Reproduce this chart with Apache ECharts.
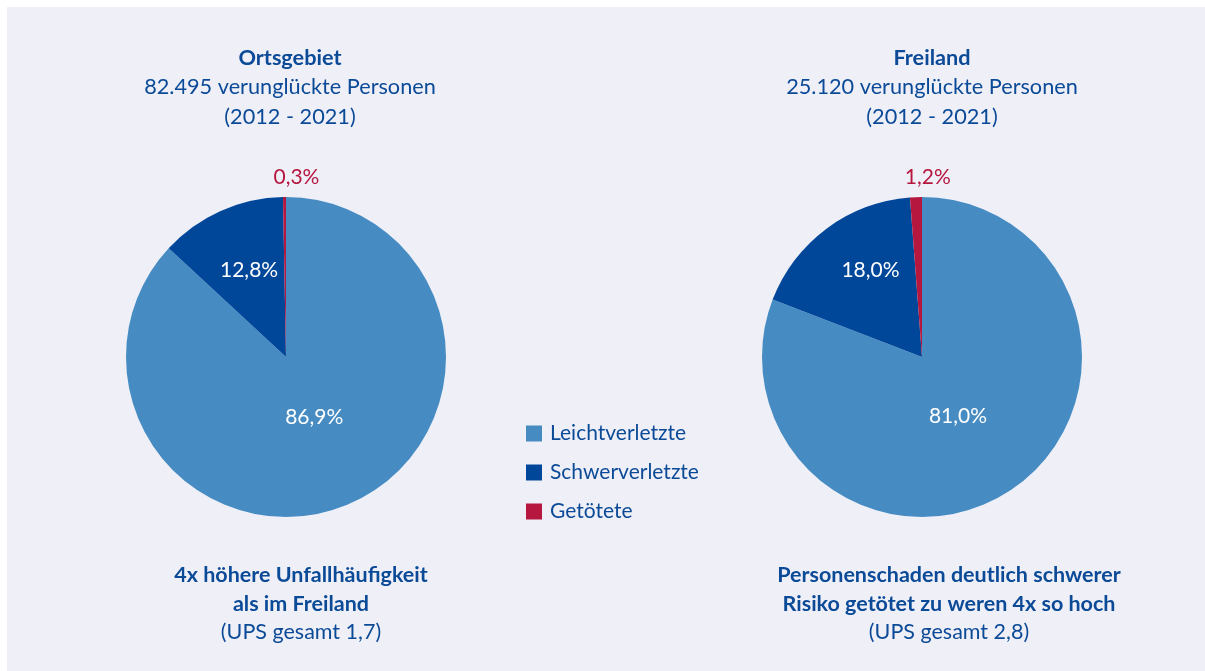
<!DOCTYPE html>
<html>
<head>
<meta charset="utf-8">
<script src="https://cdn.jsdelivr.net/npm/echarts@6/dist/echarts.min.js"></script>
<style>
    html, body { margin: 0; padding: 0; background: #ffffff; }
    .wrap { position: relative; width: 1205px; height: 671px; overflow: hidden; }
    .panel { position: absolute; left: 7px; top: 7px; right: 0; bottom: 0; background: #efeff8; }
    #chart { position: absolute; left: 0; top: 0; width: 1205px; height: 671px; }
</style>
</head>
<body>
<div class="wrap">
    <div class="panel"></div>
    <div id="chart"></div>
</div>
<script>
// Kategorien und Werte (Anteile in %)
const categories = ['Leichtverletzte', 'Schwerverletzte', 'Getötete'];
const ortsgebietValues = [86.9, 12.8, 0.3];
const freilandValues = [81.0, 18.0, 1.2];
const colors = ['#468cc3', '#00479a', '#b5173f'];

const textBlue = '#0b4a97';
const fontFamily = 'Lato, "Open Sans", sans-serif';

// Feinjustierung der Beschriftungen (wie im Original)
const labelShift = [
    [{ dx: -5, dy: -16 }, { dx: -3, dy: -11 }, { dx: 35, dy: -14 }],
    [{ dx: -11, dy: -9 }, { dx: -2, dy: -20 }, { dx: 35, dy: -14 }]
];

function fmt(v) {
    return v.toFixed(1).replace('.', ',') + '%';
}

function makeData(values) {
    return values.map((v, i) => {
        let item = {
            value: v,
            name: categories[i],
            itemStyle: { color: colors[i] }
        };
        if (i === 2) {
            item.label = {
                position: 'outside',
                color: colors[2],
                distanceToLabelLine: 0
            };
            item.labelLine = { show: false, length: 6, length2: 0 };
        }
        return item;
    });
}

function pieSeries(name, values, cx) {
    return {
        name: name,
        type: 'pie',
        center: [cx, 357],
        radius: 160,
        startAngle: 90,
        clockwise: true,
        avoidLabelOverlap: false,
        emphasis: { disabled: true },
        label: {
            show: true,
            position: 'inside',
            color: '#ffffff',
            fontSize: 21,
            fontFamily: fontFamily,
            formatter: p => fmt(p.value)
        },
        labelLine: { show: false },
        labelLayout: p => labelShift[p.seriesIndex][p.dataIndex],
        data: makeData(values)
    };
}

function textTitle(lines, x, top, size, gap) {
    return {
        text: lines,
        left: x,
        top: top,
        textAlign: 'center',
        textStyle: {
            fontWeight: 'normal',
            rich: {
                b: { color: textBlue, fontSize: size, fontWeight: 'bold', fontFamily: fontFamily, lineHeight: gap, align: 'center' },
                n: { color: textBlue, fontSize: size, fontWeight: 'normal', fontFamily: fontFamily, lineHeight: gap, align: 'center' }
            }
        }
    };
}

const chart = echarts.init(document.getElementById('chart'));
chart.setOption({
    backgroundColor: 'transparent',
    animation: false,
    title: [
        textTitle('{b|Ortsgebiet}\n{n|82.495 verunglückte Personen}\n{n|(2012 - 2021)}', 285, 38, 21.7, 29.5),
        textTitle('{b|Freiland}\n{n|25.120 verunglückte Personen}\n{n|(2012 - 2021)}', 927, 38, 21.7, 29.5),
        textTitle('{b|4x höhere Unfallhäufigkeit}\n{b|als im Freiland}\n{n|(UPS gesamt 1,7)}', 296, 556, 21.5, 28.5),
        textTitle('{b|Personenschaden deutlich schwerer}\n{b|Risiko getötet zu weren 4x so hoch}\n{n|(UPS gesamt 2,8)}', 944, 556, 21.5, 28.5)
    ],
    legend: {
        orient: 'vertical',
        left: 526,
        top: 423,
        padding: 0,
        itemWidth: 16,
        itemHeight: 16,
        itemGap: 18,
        icon: 'rect',
        data: categories,
        textStyle: { color: textBlue, fontSize: 21, fontFamily: fontFamily, padding: [0, 0, 0, 3] }
    },
    series: [
        pieSeries('Ortsgebiet', ortsgebietValues, 286),
        pieSeries('Freiland', freilandValues, 922)
    ]
});
</script>
</body>
</html>
